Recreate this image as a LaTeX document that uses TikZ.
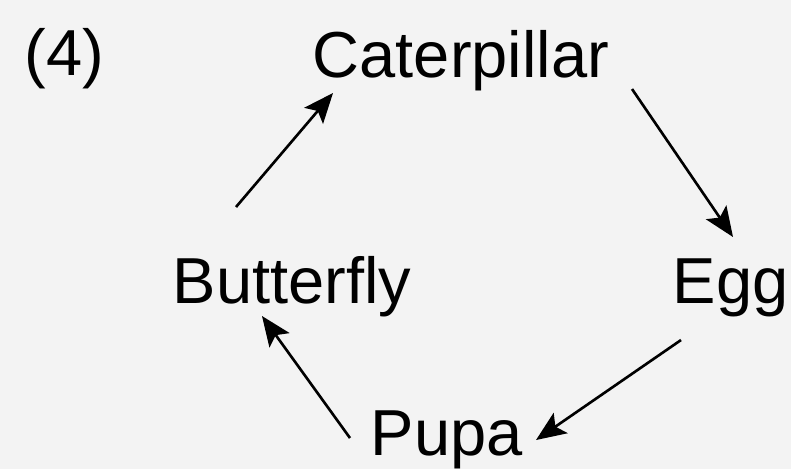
\documentclass[tikz,border=0pt]{standalone}
\usepackage{fontspec}
\setmainfont{Liberation Sans}
\usetikzlibrary{arrows.meta}
\definecolor{paper}{HTML}{F3F3F3}
\tikzset{
  stage/.style={anchor=base west, inner sep=0pt, font=\fontsize{18.5}{22}\selectfont},
  cyc/.style={-{Stealth[length=8.5pt, width=7pt, inset=1.8pt]}, line width=0.75pt}
}
\begin{document}
\begin{tikzpicture}[x=0.1mm, y=-0.1mm]
      \fill[paper] (0,0) rectangle (791,469);
      \useasboundingbox (0,0) rectangle (791,469);
      \draw
        (24,75) node[stage] (num){(4)}
        (312,77) node[stage] (cat){Caterpillar}
        (672,303) node[stage] (egg){Egg}
        (370,455) node[stage] (pup){Pupa}
        (172,303) node[stage] (but){Butterfly};
      \begin{scope}[cyc]
        \draw ([shift={(320,12)}]cat.base west) to ([shift={(61,-66)}]egg.base west);
        \draw ([shift={(9,37)}]egg.base west) to ([shift={(166,-15)}]pup.base west);
        \draw ([shift={(-20,-17)}]pup.base west) to ([shift={(90,13)}]but.base west);
        \draw ([shift={(64,-96)}]but.base west) to ([shift={(21,16)}]cat.base west);
      \end{scope}
    \end{tikzpicture}
\end{document}
